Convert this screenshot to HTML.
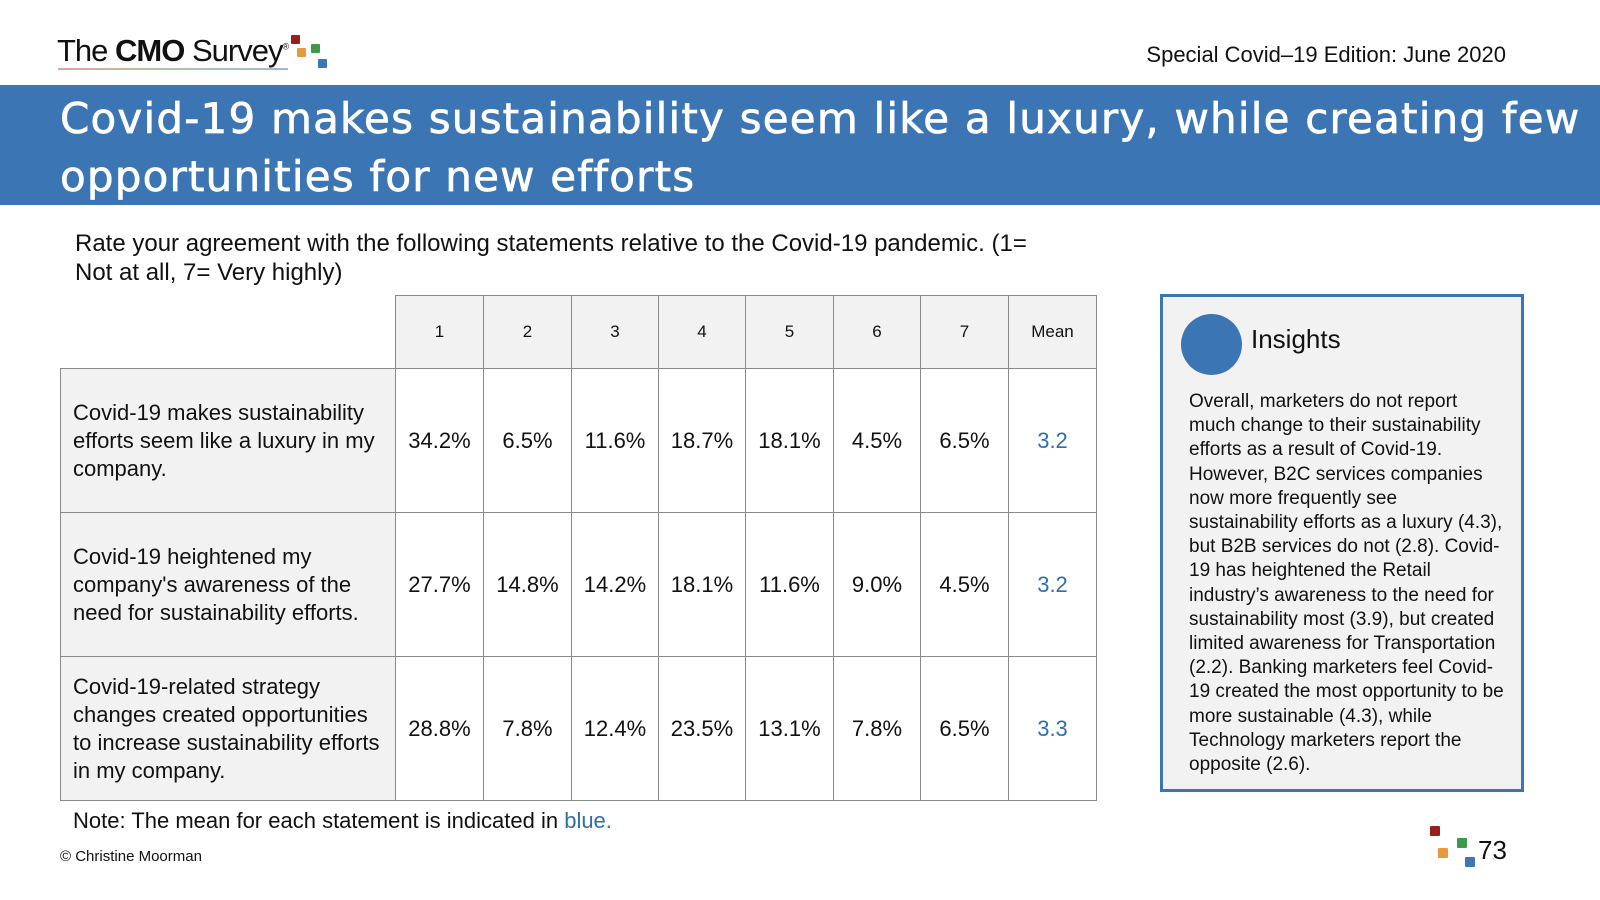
<!DOCTYPE html>
<html><head><meta charset="utf-8"><style>
*{margin:0;padding:0;box-sizing:border-box}
body{width:1600px;height:900px;background:#fff;font-family:"Liberation Sans",sans-serif;position:relative;overflow:hidden;color:#111}
.a{position:absolute}
.c{position:absolute;border:1px solid #8a8a8a;display:flex;align-items:center;justify-content:center;font-size:22px}
.h{background:#f2f2f2;font-size:17px}
.l{background:#f2f2f2;justify-content:flex-start;padding-left:12px;padding-right:6px;font-size:22px;line-height:28px}
.m{color:#2f6fa8}
.sq{position:absolute;width:9px;height:9px;border-radius:1px}
</style></head><body>
<div class="a" style="left:57px;top:33px;font-size:31px;letter-spacing:-1px;color:#111">The <b>CMO</b> Survey<sup style="font-size:9px">®</sup></div>
<div class="a" style="left:58px;top:68px;width:230px;height:2px;background:linear-gradient(90deg,#e8a0a0,#a8c8a0,#a0b8e0)"></div>
<div class="sq" style="left:291px;top:35px;background:#9b1e1e"></div>
<div class="sq" style="left:297px;top:48px;background:#e79a3c"></div>
<div class="sq" style="left:311px;top:44px;background:#3d9a4c"></div>
<div class="sq" style="left:318px;top:59px;background:#3d76b4"></div>
<div class="a" style="right:94px;top:42px;font-size:22px">Special Covid–19 Edition: June 2020</div>
<div class="a" style="left:0;top:85px;width:1600px;height:120px;background:#3b75b3"></div>
<div class="a" style="left:60px;top:90px;width:1540px;color:#fff;font-size:42px;letter-spacing:1.2px;line-height:58px;font-family:'DejaVu Sans',sans-serif;-webkit-text-stroke:0.7px #fff">Covid-19 makes sustainability seem like a luxury, while creating few opportunities for new efforts</div>
<div class="a" style="left:75px;top:229px;width:1000px;font-size:24px;line-height:29px">Rate your agreement with the following statements relative to the Covid-19 pandemic. (1=<br>Not at all, 7= Very highly)</div>
<div id="tbl"></div>
<div class="a" style="left:73px;top:808px;font-size:22px">Note: The mean for each statement is indicated in <span class="m">blue.</span></div>
<div class="a" style="left:60px;top:848px;font-size:15px">© Christine Moorman</div>
<div class="a" style="left:1160px;top:294px;width:364px;height:498px;border:3px solid #3b75b3;background:#f2f2f2"></div>
<div class="a" style="left:1181px;top:314px;width:61px;height:61px;border-radius:50%;background:#3b75b3"></div>
<div class="a" style="left:1251px;top:324px;font-size:26px">Insights</div>
<div class="a" style="left:1189px;top:390px;width:318px;font-size:19px;line-height:24.2px">Overall, marketers do not report much change to their sustainability efforts as a result of Covid-19. However, B2C services companies now more frequently see sustainability efforts as a luxury (4.3), but B2B services do not (2.8). Covid-19 has heightened the Retail industry’s awareness to the need for sustainability most (3.9), but created limited awareness for Transportation (2.2). Banking marketers feel Covid-19 created the most opportunity to be more sustainable (4.3), while Technology marketers report the opposite (2.6).</div>
<div class="sq" style="left:1430px;top:826px;width:10px;height:10px;background:#9b1e1e"></div>
<div class="sq" style="left:1438px;top:848px;width:10px;height:10px;background:#e79a3c"></div>
<div class="sq" style="left:1457px;top:838px;width:10px;height:10px;background:#3d9a4c"></div>
<div class="sq" style="left:1465px;top:857px;width:10px;height:10px;background:#3d76b4"></div>
<div class="a" style="left:1478px;top:835px;font-size:26px">73</div>
<script>
const headers=["1","2","3","4","5","6","7","Mean"];
const labels=["Covid-19 makes sustainability efforts seem like a luxury in my company.","Covid-19 heightened my company's awareness of the need for sustainability efforts.","Covid-19-related strategy changes created opportunities to increase sustainability efforts in my company."];
const row1=["34.2%","6.5%","11.6%","18.7%","18.1%","4.5%","6.5%","3.2"];
const row2=["27.7%","14.8%","14.2%","18.1%","11.6%","9.0%","4.5%","3.2"];
const row3=["28.8%","7.8%","12.4%","23.5%","13.1%","7.8%","6.5%","3.3"];
const rows=[row1,row2,row3];
const xs=[395,483,571,658,745,833,920,1008,1096];
const t=document.getElementById('tbl');
function cell(x,y,w,h,cls,txt){const d=document.createElement('div');d.className='c '+cls;d.style.cssText=`left:${x}px;top:${y}px;width:${w+1}px;height:${h+1}px`;d.textContent=txt;t.appendChild(d);return d;}
headers.forEach((h,i)=>{const d=cell(xs[i],295,xs[i+1]-xs[i],73,'h',h);

});
rows.forEach((r,ri)=>{const y=368+ri*144;
const l=cell(60,y,335,144,'l',labels[ri]);


r.forEach((v,i)=>{const d=cell(xs[i],y,xs[i+1]-xs[i],144,i==7?'m':'',v);

});});
</script>
</body></html>
